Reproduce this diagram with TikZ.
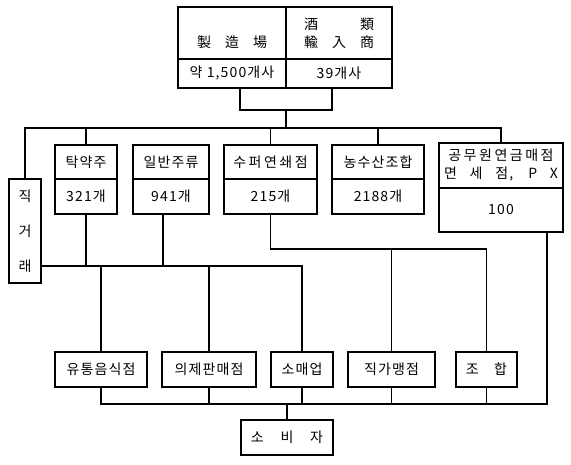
\documentclass[tikz,border=0pt]{standalone}
\usepackage{fontspec}
\newfontfamily\kr{Noto Sans CJK KR}[LetterSpace=8]
\newfontfamily\krwide{Noto Sans CJK KR}[LetterSpace=18]
\usetikzlibrary{calc}

\tikzset{
  cellbox/.style={draw, line width=1.2pt, inner sep=0pt, outer sep=0pt, anchor=north west,
    align=center, font={\kr\fontsize{14}{18}\selectfont}},
  link/.style={line width=1.2pt},
}

\begin{document}
\begin{tikzpicture}[x=1pt, y=-1pt]
    \useasboundingbox (0,0) rectangle (571,464);

    % makers and importers
    \node[cellbox, minimum width=108pt, minimum height=52pt] (mfr) at (178,7) {\strut\\製\quad 造\quad 場};
    \node[cellbox, minimum width=106pt, minimum height=52pt] (imp) at (286,7) {酒\hspace{3em}類\\輸\quad 入\quad 商};
    \node[cellbox, minimum width=108pt, minimum height=29pt] (mfrn) at (178,59) {약 1,500개사};
    \node[cellbox, minimum width=106pt, minimum height=29pt] (impn) at (286,59) {39개사};

    % wholesalers
    \node[cellbox, minimum width=32pt, minimum height=104pt, font={\kr\fontsize{14}{35}\selectfont}] (jik) at (9,179) {직\\거\\래};
    \node[cellbox, minimum width=62pt, minimum height=34pt] (tak) at (55,145) {탁약주};
    \node[cellbox, minimum width=62pt, minimum height=35pt] (takn) at (55,179) {321개};
    \node[cellbox, minimum width=76pt, minimum height=34pt] (ilban) at (133,145) {일반주류};
    \node[cellbox, minimum width=76pt, minimum height=35pt] (ilbann) at (133,179) {941개};
    \node[cellbox, minimum width=93pt, minimum height=34pt] (super) at (224,145) {\krwide 수퍼연쇄점};
    \node[cellbox, minimum width=93pt, minimum height=35pt] (supern) at (224,179) {215개};
    \node[cellbox, minimum width=92pt, minimum height=34pt] (nong) at (332,145) {농수산조합};
    \node[cellbox, minimum width=92pt, minimum height=35pt] (nongn) at (332,179) {2188개};
    \node[cellbox, minimum width=124pt, minimum height=45pt] (gong) at (439,143) {{\krwide 공무원연금매점}\\\makebox[114pt][s]{면 세 점, P X}};
    \node[cellbox, minimum width=124pt, minimum height=44pt] (gongn) at (439,188) {100};

    % retailers
    \node[cellbox, minimum width=92pt, minimum height=35pt] (yutong) at (55,352) {유통음식점};
    \node[cellbox, minimum width=94pt, minimum height=35pt] (uije) at (162,352) {의제판매점};
    \node[cellbox, minimum width=62pt, minimum height=35pt] (somae) at (271,352) {소매업};
    \node[cellbox, minimum width=87pt, minimum height=35pt] (jikga) at (348,352) {직가맹점};
    \node[cellbox, minimum width=61pt, minimum height=35pt] (johap) at (456,352) {조\hspace{1.1em}합};
    \node[cellbox, minimum width=92pt, minimum height=35pt] (sobi) at (241,420) {소\hspace{1.2em}비\hspace{1.2em}자};

    % top lines
    \coordinate (tj) at ($(mfrn.south east)+(0,22)$);
    \coordinate (bus) at ($(tj)+(0,18)$);
    \draw[link] ([xshift=8pt]mfrn.south) |- (tj) -| ([xshift=-7pt]impn.south);
    \draw[link] (tj) -- (bus);
    \draw[link] (jik.north) |- (bus) -| (gong.north);
    \foreach \n in {tak, super, nong}
        \draw[link] (\n.north) -- (\n.north |- bus);

    % middle lines
    \coordinate (mid) at ($(takn.south)+(0,52)$);
    \coordinate (mid2) at ($(supern.south)+(0,35)$);
    \draw[link] (jik.east |- mid) -- (somae.north |- mid) -- (somae.north);
    \draw[link] (takn.south) -- (takn.south |- mid);
    \draw[link] ([xshift=-8pt]ilbann.south) -- ([xshift=-8pt]ilbann.south |- mid);
    \foreach \n in {yutong, uije}
        \draw[link] (\n.north) -- (\n.north |- mid);
    \draw[link] (supern.south) -- (mid2) -| (johap.north);
    \draw[link] (jikga.north) -- (jikga.north |- mid2);

    % bottom lines
    \coordinate (low) at ($(yutong.south)+(0,17)$);
    \coordinate (gx) at ([xshift=-16pt]gongn.south east);
    \draw[link] (yutong.south) |- (low) -| (gx);
    \foreach \n in {uije, somae, jikga, johap}
        \draw[link] (\n.south) -- (\n.south |- low);
    \draw[link] (sobi.north) -- (sobi.north |- low);
\end{tikzpicture}
\end{document}
